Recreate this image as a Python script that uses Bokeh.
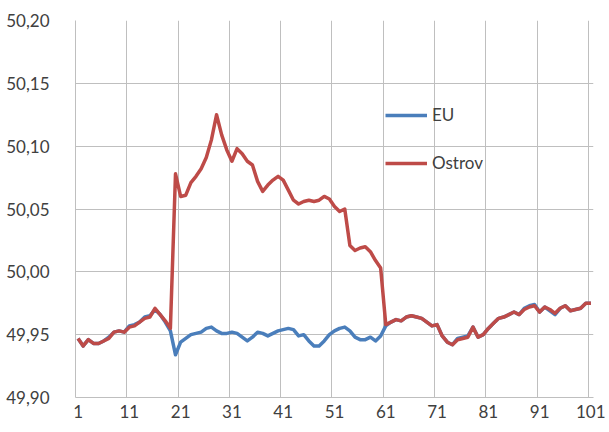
from bokeh.plotting import figure
from bokeh.models import Range1d, FixedTicker, Legend, LegendItem, CustomJSTickFormatter
from bokeh.embed import file_html
from bokeh.resources import INLINE

categories = list(range(1, 102))

eu = [49.947, 49.941, 49.946, 49.943, 49.943, 49.945, 49.948, 49.952, 49.953, 49.952,
      49.957, 49.958, 49.960, 49.964, 49.965, 49.970, 49.966, 49.960, 49.953, 49.934,
      49.944, 49.947, 49.950, 49.951, 49.952, 49.955, 49.956, 49.953, 49.951, 49.951,
      49.952, 49.951, 49.948, 49.945, 49.948, 49.952, 49.951, 49.949, 49.951, 49.953,
      49.954, 49.955, 49.954, 49.949, 49.950, 49.945, 49.941, 49.941, 49.945, 49.950,
      49.953, 49.955, 49.956, 49.953, 49.948, 49.946, 49.946, 49.948, 49.945, 49.949,
      49.957, 49.960, 49.962, 49.961, 49.964, 49.965, 49.964, 49.963, 49.960, 49.957,
      49.958, 49.949, 49.944, 49.942, 49.947, 49.948, 49.949, 49.956, 49.948, 49.950,
      49.955, 49.959, 49.963, 49.964, 49.966, 49.968, 49.966, 49.971, 49.973, 49.974,
      49.968, 49.972, 49.969, 49.966, 49.971, 49.973, 49.969, 49.970, 49.971, 49.975,
      49.975]

ostrov = [49.947, 49.941, 49.946, 49.943, 49.943, 49.945, 49.947, 49.952, 49.953, 49.952,
          49.956, 49.957, 49.960, 49.963, 49.964, 49.971, 49.966, 49.961, 49.955, 50.078,
          50.060, 50.061, 50.071, 50.076, 50.082, 50.091, 50.105, 50.125, 50.109, 50.097,
          50.088, 50.098, 50.094, 50.088, 50.085, 50.072, 50.064, 50.069, 50.073, 50.076,
          50.073, 50.065, 50.057, 50.054, 50.056, 50.057, 50.056, 50.057, 50.060, 50.058,
          50.052, 50.048, 50.050, 50.021, 50.017, 50.019, 50.020, 50.016, 50.009, 50.003,
          49.958, 49.960, 49.962, 49.961, 49.964, 49.965, 49.964, 49.963, 49.960, 49.957,
          49.958, 49.949, 49.944, 49.942, 49.946, 49.947, 49.948, 49.956, 49.948, 49.950,
          49.955, 49.959, 49.963, 49.964, 49.966, 49.968, 49.966, 49.970, 49.972, 49.973,
          49.968, 49.972, 49.970, 49.967, 49.971, 49.973, 49.969, 49.970, 49.971, 49.975,
          49.975]

x_tick_labels = ["1", "11", "21", "31", "41", "51", "61", "71", "81", "91", "101"]
y_ticks = [49.90, 49.95, 50.00, 50.05, 50.10, 50.15, 50.20]

FONT = "Lato"
TEXT = "#404040"
GRID = "#bfbfbf"

p = figure(width=605, height=428, output_backend="svg", toolbar_location=None,
           x_range=Range1d(0.5, 101.5), y_range=Range1d(49.90, 50.20),
           min_border_left=75, min_border_right=12, min_border_top=20, min_border_bottom=31)
p.outline_line_color = None
p.background_fill_color = "white"

label_pos = [int(t) for t in x_tick_labels]
p.xaxis.ticker = FixedTicker(ticks=label_pos)
p.xgrid.ticker = FixedTicker(ticks=[t - 0.5 for t in label_pos])
p.yaxis.ticker = FixedTicker(ticks=y_ticks)
p.ygrid.ticker = FixedTicker(ticks=y_ticks)
p.yaxis.formatter = CustomJSTickFormatter(code="return tick.toFixed(2).replace('.', ',');")

for ax in (p.xaxis, p.yaxis):
    ax.major_tick_line_color = None
    ax.minor_tick_line_color = None
    ax.axis_line_color = GRID
    ax.major_label_text_font = FONT
    ax.major_label_text_font_size = "17px"
    ax.major_label_text_color = TEXT
p.yaxis.major_label_standoff = 20
p.xaxis.major_label_standoff = 1
p.xgrid.grid_line_color = GRID
p.ygrid.grid_line_color = GRID

r_eu = p.line(categories, eu, line_color="#4a7ebb", line_width=3.5, line_join="round")
r_os = p.line(categories, ostrov, line_color="#be4b48", line_width=3.5, line_join="round")

legend = Legend(items=[LegendItem(label="EU", renderers=[r_eu]),
                       LegendItem(label="Ostrov", renderers=[r_os])],
                location=(310, 224), glyph_width=42, glyph_height=20, label_height=20,
                label_standoff=5, spacing=27, padding=0, margin=0,
                border_line_color=None, background_fill_alpha=0,
                label_text_font=FONT, label_text_font_size="17px", label_text_color=TEXT)
p.add_layout(legend)

open("out.html", "w").write(file_html(p, INLINE))
